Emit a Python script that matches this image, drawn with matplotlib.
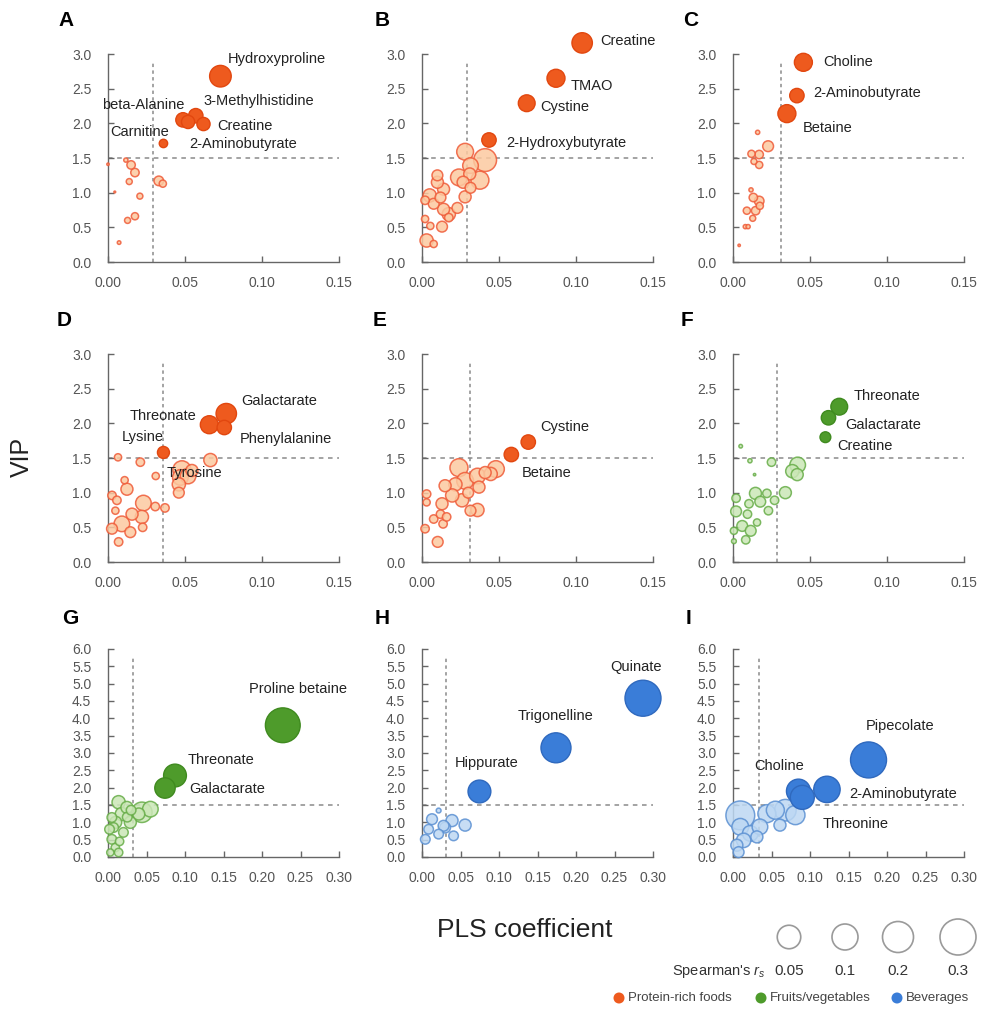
import matplotlib
matplotlib.use("Agg")
import matplotlib.pyplot as plt
from matplotlib.patches import Circle
from matplotlib.ticker import FormatStrFormatter, MultipleLocator
import numpy as np

plt.rcParams['font.family'] = ['Liberation Sans', 'DejaVu Sans']
plt.rcParams['mathtext.fontset'] = 'custom'
plt.rcParams['mathtext.rm'] = 'Liberation Sans'
plt.rcParams['mathtext.it'] = 'Liberation Sans:italic'

# ---------------- data: PLS coefficient, VIP, Spearman r_s ----------------
# A  protein-rich foods
A_names = ["Hydroxyproline", "3-Methylhistidine", "beta-Alanine", "Carnitine", "Creatine", "2-Aminobutyrate",
           "", "", "", "", "", "", "", "", "", "", "", ""]
A_x = [0.073, 0.057, 0.0487, 0.052, 0.062, 0.036,
       0.0, 0.0116, 0.015, 0.0175, 0.0138, 0.033, 0.0356, 0.0207, 0.0044, 0.0127, 0.0175, 0.0072]
A_vip = [2.68, 2.11, 2.05, 2.02, 1.99, 1.71,
         1.41, 1.47, 1.40, 1.29, 1.16, 1.17, 1.13, 0.95, 1.01, 0.60, 0.66, 0.28]
A_rs = [0.18, 0.12, 0.12, 0.11, 0.11, 0.07,
        0.02, 0.035, 0.07, 0.07, 0.05, 0.08, 0.06, 0.05, 0.015, 0.05, 0.06, 0.03]
A_cut = 0.029

# B  protein-rich foods
B_names = ["Creatine", "TMAO", "Cystine", "2-Hydroxybutyrate"] + [""] * 25
B_x = [0.104, 0.087, 0.068, 0.0435,
       0.028, 0.041, 0.0315, 0.031, 0.0376, 0.024, 0.0267, 0.0315, 0.028, 0.010, 0.010, 0.014, 0.005,
       0.012, 0.0076, 0.002, 0.014, 0.0174, 0.023, 0.0054, 0.013, 0.002, 0.003, 0.0076, 0.0174]
B_vip = [3.16, 2.65, 2.29, 1.76,
         1.59, 1.47, 1.39, 1.27, 1.18, 1.22, 1.15, 1.07, 0.94, 1.25, 1.15, 1.05, 0.96,
         0.93, 0.84, 0.89, 0.76, 0.69, 0.78, 0.52, 0.51, 0.62, 0.31, 0.26, 0.64]
B_rs = [0.17, 0.15, 0.14, 0.12,
        0.14, 0.19, 0.13, 0.10, 0.15, 0.14, 0.10, 0.09, 0.10, 0.09, 0.10, 0.10, 0.11,
        0.09, 0.09, 0.07, 0.10, 0.11, 0.09, 0.06, 0.09, 0.06, 0.11, 0.06, 0.07]
B_cut = 0.0289

# C  protein-rich foods
C_names = ["Choline", "2-Aminobutyrate", "Betaine"] + [""] * 16
C_x = [0.0457, 0.0415, 0.035,
       0.016, 0.0228, 0.012, 0.017, 0.0136, 0.017, 0.0117, 0.0132, 0.017, 0.009, 0.0147, 0.0128,
       0.0174, 0.008, 0.0098, 0.004]
C_vip = [2.88, 2.40, 2.14,
         1.87, 1.67, 1.56, 1.55, 1.45, 1.40, 1.04, 0.93, 0.88, 0.74, 0.74, 0.63, 0.81, 0.51, 0.51, 0.24]
C_rs = [0.15, 0.12, 0.15,
        0.035, 0.09, 0.06, 0.07, 0.05, 0.06, 0.035, 0.07, 0.08, 0.06, 0.07, 0.05, 0.06, 0.035, 0.035, 0.02]
C_cut = 0.0313

# D  protein-rich foods
D_names = ["Galactarate", "Threonate", "Phenylalanine", "Lysine", "", "Tyrosine"] + [""] * 23
D_x = [0.0768, 0.0658, 0.0755, 0.036,
       0.0665, 0.048, 0.047, 0.052, 0.0545, 0.046, 0.046, 0.031, 0.0065, 0.021, 0.0108, 0.0123, 0.0026,
       0.0058, 0.023, 0.0307, 0.037, 0.0156, 0.022, 0.009, 0.0026, 0.0145, 0.0069, 0.0225, 0.0048]
D_vip = [2.14, 1.98, 1.94, 1.58,
         1.47, 1.33, 1.22, 1.24, 1.32, 1.12, 1.00, 1.24, 1.51, 1.44, 1.18, 1.05, 0.96,
         0.89, 0.85, 0.80, 0.78, 0.69, 0.65, 0.55, 0.48, 0.43, 0.29, 0.50, 0.74]
D_rs = [0.17, 0.15, 0.12, 0.10,
        0.11, 0.15, 0.13, 0.13, 0.10, 0.11, 0.09, 0.06, 0.06, 0.07, 0.06, 0.10, 0.07,
        0.07, 0.13, 0.07, 0.07, 0.10, 0.11, 0.13, 0.09, 0.09, 0.07, 0.07, 0.06]
D_cut = 0.0355

# E  protein-rich foods
E_names = ["Cystine", "Betaine"] + [""] * 23
E_x = [0.069, 0.058,
       0.048, 0.0446, 0.041, 0.036, 0.037, 0.024, 0.028, 0.0217, 0.015, 0.0196, 0.026, 0.013,
       0.0315, 0.036, 0.012, 0.0076, 0.0137, 0.003, 0.003, 0.002, 0.0102, 0.016, 0.030]
E_vip = [1.73, 1.55,
         1.34, 1.27, 1.29, 1.24, 1.08, 1.36, 1.17, 1.12, 1.10, 0.96, 0.89, 0.84,
         0.74, 0.75, 0.69, 0.62, 0.55, 0.98, 0.86, 0.48, 0.29, 0.65, 1.00]
E_rs = [0.12, 0.12,
        0.14, 0.11, 0.10, 0.13, 0.10, 0.15, 0.14, 0.11, 0.10, 0.11, 0.11, 0.10,
        0.09, 0.11, 0.07, 0.07, 0.07, 0.07, 0.06, 0.07, 0.09, 0.07, 0.09]
E_cut = 0.031

# F  fruits/vegetables
F_names = ["Threonate", "Galactarate", "Creatine"] + [""] * 23
F_x = [0.069, 0.062, 0.060,
       0.005, 0.011, 0.025, 0.014, 0.042, 0.0385, 0.0417, 0.034, 0.0146, 0.022, 0.027, 0.0177,
       0.0104, 0.023, 0.002, 0.002, 0.0094, 0.006, 0.0115, 0.0083, 0.0006, 0.0156, 0.0006]
F_vip = [2.24, 2.08, 1.80,
         1.67, 1.46, 1.44, 1.26, 1.40, 1.31, 1.26, 1.00, 0.99, 0.99, 0.89, 0.87,
         0.84, 0.74, 0.92, 0.73, 0.69, 0.52, 0.45, 0.32, 0.45, 0.57, 0.30]
F_rs = [0.14, 0.12, 0.09,
        0.03, 0.035, 0.07, 0.02, 0.13, 0.11, 0.10, 0.10, 0.10, 0.07, 0.07, 0.09,
        0.07, 0.07, 0.07, 0.09, 0.07, 0.09, 0.09, 0.07, 0.06, 0.06, 0.04]
F_cut = 0.0285

# G  fruits/vegetables
G_names = ["Proline betaine", "Threonate", "Galactarate"] + [""] * 19
G_x = [0.227, 0.087, 0.074,
       0.044, 0.055, 0.0138, 0.0246, 0.005, 0.018, 0.029, 0.0073, 0.020, 0.005, 0.0095, 0.003,
       0.0138, 0.040, 0.010, 0.025, 0.015, 0.030, 0.002]
G_vip = [3.80, 2.35, 1.99,
         1.29, 1.38, 1.58, 1.43, 1.14, 1.24, 1.00, 0.85, 0.71, 0.51, 0.27, 0.13,
         0.13, 1.24, 1.00, 1.15, 0.45, 1.35, 0.80]
G_rs = [0.29, 0.19, 0.17,
        0.17, 0.13, 0.11, 0.10, 0.08, 0.11, 0.10, 0.08, 0.08, 0.08, 0.07, 0.06,
        0.07, 0.10, 0.10, 0.08, 0.07, 0.08, 0.08]
G_cut = 0.033

# H  beverages
H_names = ["Quinate", "Trigonelline", "Hippurate"] + [""] * 10
H_x = [0.287, 0.174, 0.0746,
       0.056, 0.039, 0.030, 0.0216, 0.013, 0.0086, 0.0043, 0.0216, 0.041, 0.028]
H_vip = [4.58, 3.15, 1.89,
         0.92, 1.05, 0.85, 1.34, 1.09, 0.80, 0.51, 0.66, 0.61, 0.90]
H_rs = [0.30, 0.25, 0.19,
        0.10, 0.10, 0.09, 0.04, 0.09, 0.08, 0.08, 0.08, 0.08, 0.09]
H_cut = 0.0315

# I  beverages
I_names = ["Pipecolate", "2-Aminobutyrate", "Choline", "Threonine"] + [""] * 13
I_x = [0.176, 0.122, 0.085, 0.090,
       0.0095, 0.044, 0.055, 0.068, 0.081, 0.061, 0.035, 0.0225, 0.0138, 0.005, 0.0073, 0.0095, 0.031]
I_vip = [2.80, 1.95, 1.90, 1.72,
         1.20, 1.25, 1.35, 1.35, 1.21, 0.92, 0.87, 0.68, 0.48, 0.34, 0.14, 0.87, 0.58]
I_rs = [0.30, 0.22, 0.20, 0.20,
        0.24, 0.15, 0.15, 0.18, 0.16, 0.10, 0.13, 0.13, 0.12, 0.10, 0.09, 0.14, 0.10]
I_cut = 0.034

VIP_CUT = 1.5
LEGEND_RS = [0.05, 0.1, 0.2, 0.3]
GROUPS = ["Protein-rich foods", "Fruits/vegetables", "Beverages"]

# ---------------- styling ----------------
PALETTE = {
    "protein": dict(dark="#EE5A1E", dark_edge="#E2470F", light="#FCC9A0", light_edge="#EF5B38"),
    "fruit": dict(dark="#4E9B2B", dark_edge="#3F8A1F", light="#CBE7B7", light_edge="#67AD48"),
    "bev": dict(dark="#3A7DD8", dark_edge="#2F69BE", light="#BDD8F3", light_edge="#5B90D2"),
}

# text anchor (left edge, vertical centre) for each label, in data units
LABEL_XY = {
    "A": {"Hydroxyproline": (0.078, 2.93), "3-Methylhistidine": (0.062, 2.32), "beta-Alanine": (-0.004, 2.27),
          "Creatine": (0.071, 1.96), "Carnitine": (0.0017, 1.87), "2-Aminobutyrate": (0.053, 1.70)},
    "B": {"Creatine": (0.116, 3.19), "TMAO": (0.0967, 2.54), "Cystine": (0.0767, 2.23),
          "2-Hydroxybutyrate": (0.055, 1.71)},
    "C": {"Choline": (0.0583, 2.88), "2-Aminobutyrate": (0.052, 2.44), "Betaine": (0.0455, 1.93)},
    "D": {"Galactarate": (0.0866, 2.32), "Threonate": (0.0139, 2.11), "Lysine": (0.0091, 1.81),
          "Phenylalanine": (0.0853, 1.78), "Tyrosine": (0.0383, 1.28)},
    "E": {"Cystine": (0.0765, 1.95), "Betaine": (0.065, 1.28)},
    "F": {"Threonate": (0.0785, 2.40), "Galactarate": (0.073, 1.98), "Creatine": (0.068, 1.67)},
    "G": {"Proline betaine": (0.183, 4.84), "Threonate": (0.104, 2.79), "Galactarate": (0.106, 1.95)},
    "H": {"Quinate": (0.245, 5.48), "Trigonelline": (0.124, 4.07), "Hippurate": (0.042, 2.71)},
    "I": {"Pipecolate": (0.173, 3.79), "Choline": (0.0277, 2.62), "2-Aminobutyrate": (0.151, 1.83),
          "Threonine": (0.117, 0.94)},
}

PANELS = [
    ("A", 0, 0, "protein", A_x, A_vip, A_rs, A_names, A_cut, 0.15, 3.0),
    ("B", 1, 0, "protein", B_x, B_vip, B_rs, B_names, B_cut, 0.15, 3.0),
    ("C", 2, 0, "protein", C_x, C_vip, C_rs, C_names, C_cut, 0.15, 3.0),
    ("D", 0, 1, "protein", D_x, D_vip, D_rs, D_names, D_cut, 0.15, 3.0),
    ("E", 1, 1, "protein", E_x, E_vip, E_rs, E_names, E_cut, 0.15, 3.0),
    ("F", 2, 1, "fruit", F_x, F_vip, F_rs, F_names, F_cut, 0.15, 3.0),
    ("G", 0, 2, "fruit", G_x, G_vip, G_rs, G_names, G_cut, 0.30, 6.0),
    ("H", 1, 2, "bev", H_x, H_vip, H_rs, H_names, H_cut, 0.30, 6.0),
    ("I", 2, 2, "bev", I_x, I_vip, I_rs, I_names, I_cut, 0.30, 6.0),
]

W, H = 988, 1010
COL_LEFT = [108, 422, 733]
ROW_TOP = [54, 354, 649]
AX_W, AX_H = 231, 208
LETTER_XY = {"A": (58, 21), "B": (375, 20), "C": (683, 21), "D": (57, 320), "E": (373, 320),
             "F": (681, 320), "G": (62, 618), "H": (375, 618), "I": (686, 618)}


def size_pts2(rs):
    """Marker area (pt^2) for a Spearman coefficient: radius of 60 px per unit r_s."""
    radius_pt = 60.0 * np.asarray(rs) * 72.0 / 100.0
    return (2 * radius_pt) ** 2


fig = plt.figure(figsize=(W / 100, H / 100), dpi=100)

for letter, col, row, grp, xs, vips, rss, names, cut, xmax, ymax in PANELS:
    pal = PALETTE[grp]
    left = COL_LEFT[col] / W
    bottom = 1 - (ROW_TOP[row] + AX_H) / H
    ax = fig.add_axes([left, bottom, AX_W / W, AX_H / H])
    xs, vips, rss = np.array(xs), np.array(vips), np.array(rss)
    sig = (vips > VIP_CUT) & (xs > cut)

    ax.plot([cut, cut], [0, ymax * 0.965], ls=(0, (2.2, 2.2)), color="#8a8a8a", lw=1.1, zorder=1)
    ax.plot([0, xmax], [VIP_CUT, VIP_CUT], ls=(0, (3, 3)), color="#8a8a8a", lw=1.1, zorder=1)

    order = np.argsort(-rss[~sig])
    ax.scatter(xs[~sig][order], vips[~sig][order], s=size_pts2(rss[~sig][order]),
               facecolor=pal["light"], edgecolor=pal["light_edge"], linewidth=1.1,
               alpha=0.85, clip_on=False, zorder=3)
    ax.scatter(xs[sig], vips[sig], s=size_pts2(rss[sig]),
               facecolor=pal["dark"], edgecolor=pal["dark_edge"], linewidth=1.0,
               clip_on=False, zorder=4)

    for name in names:
        if name:
            tx, ty = LABEL_XY[letter][name]
            ax.text(tx, ty, name, fontsize=10.5, color="#222222", ha="left", va="center",
                    zorder=6, clip_on=False)

    ax.set_xlim(0, xmax)
    ax.set_ylim(0, ymax)
    ax.xaxis.set_major_locator(MultipleLocator(0.05))
    ax.yaxis.set_major_locator(MultipleLocator(0.5))
    ax.xaxis.set_major_formatter(FormatStrFormatter("%.2f"))
    ax.yaxis.set_major_formatter(FormatStrFormatter("%.1f"))
    for side in ("top", "right"):
        ax.spines[side].set_visible(False)
    for side in ("left", "bottom"):
        ax.spines[side].set_color("#666666")
        ax.spines[side].set_linewidth(1.0)
    ax.tick_params(direction="in", length=4, width=1.0, color="#666666",
                   labelcolor="#555555", labelsize=10)
    ax.tick_params(axis="y", pad=12)
    ax.tick_params(axis="x", pad=10)
    ax.set_facecolor("none")

    lx, ly = LETTER_XY[letter]
    fig.text(lx / W, 1 - ly / H, letter, fontsize=15, fontweight="bold", ha="left", va="center")

fig.text(22 / W, 1 - 457 / H, "VIP", fontsize=18, rotation=90, ha="center", va="center", color="#222222")
fig.text(525 / W, 1 - 930 / H, "PLS coefficient", fontsize=19, ha="center", va="center", color="#222222")

# ---------------- legends ----------------
lax = fig.add_axes([0, 0, 1, 1])
lax.set_xlim(0, W)
lax.set_ylim(H, 0)
lax.axis("off")

leg_x = [789, 845, 898, 958]
for v, cx in zip(LEGEND_RS, leg_x):
    lax.add_patch(Circle((cx, 937), 10.5 + 25 * v, facecolor="none", edgecolor="#9a9a9a", lw=1.2))
    lax.text(cx, 971, f"{v:g}", fontsize=11, color="#333333", ha="center", va="center")
lax.text(765, 971, "Spearman's $r_s$", fontsize=10.5, color="#333333", ha="right", va="center")

grp_keys = ["protein", "fruit", "bev"]
dot_x = [619, 761, 897]
for key, label, dx in zip(grp_keys, GROUPS, dot_x):
    lax.add_patch(Circle((dx, 998), 5.5, facecolor=PALETTE[key]["dark"], edgecolor="none"))
    lax.text(dx + 9, 998, label, fontsize=9.5, color="#444444", ha="left", va="center")

fig.savefig("out.png", dpi=100)
